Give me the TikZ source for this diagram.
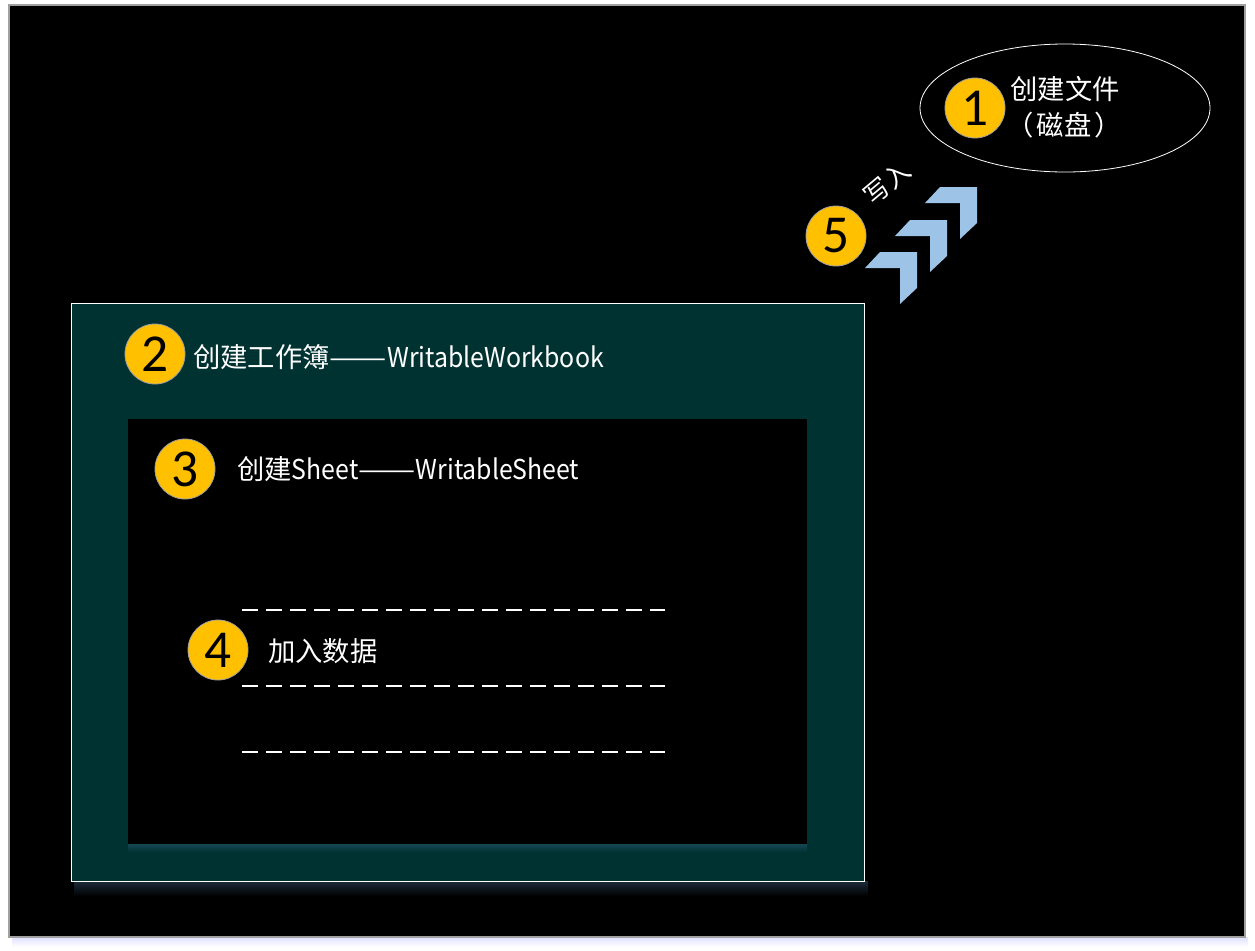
\documentclass[tikz,border=0pt]{standalone}
\usepackage{fontspec}
\usepackage{graphicx}
\usetikzlibrary{shapes.geometric}
\setmainfont{Noto Sans CJK SC}
\newfontfamily\digitfont{Carlito}
\definecolor{frameback}{RGB}{0,0,0}
\definecolor{framegray}{RGB}{160,160,160}
\definecolor{panelteal}{RGB}{1,50,50}
\definecolor{badge}{RGB}{255,192,0}
\definecolor{chev}{RGB}{157,195,230}
\definecolor{glow}{RGB}{28,44,60}
\definecolor{innerglow}{RGB}{22,70,82}
\newcommand{\lat}[1]{\scalebox{0.91}[1]{#1}}
\newcommand{\longdash}{\scalebox{1.25}[1]{——}}
\tikzset{
  badgecircle/.style={circle,fill=badge,draw=framegray,line width=0.6pt,minimum size=45pt,inner sep=0pt,font=\digitfont\fontsize{40}{40}\selectfont,text=black},
  steptext/.style={text=white,font=\fontsize{20.5}{24}\selectfont,inner sep=0pt,anchor=west},
  dashline/.style={draw=white,line width=1.5pt,dash pattern=on 12pt off 6pt}
}
\newcommand{\chevron}[2]{%
  \fill[chev] (#1-52,#2+16) -- (#1-37,#2) -- (#1,#2) -- (#1,#2+36) -- (#1-17,#2+52) -- (#1-17,#2+16) -- cycle;}
\begin{document}
\begin{tikzpicture}[x=0.75pt,y=-0.75pt]
\useasboundingbox (0,0) rectangle (1255,950);
\fill[white] (0,0) rectangle (1255,950);
% outer frame shadow
\shade[top color=blue!12,bottom color=white] (12,937) rectangle (1248,947);
\fill[frameback] (9,5) rectangle (1245,937);
\draw[framegray,line width=0.8pt] (9,5) rectangle (1245,937);

% workbook panel with soft shadow
\shade[top color=glow,bottom color=black] (74,881) rectangle (868,896);
\node[draw=white,fill=panelteal,line width=0.8pt,minimum width=594.75pt,minimum height=433.5pt,inner sep=0pt,anchor=north west] (book) at (71,303) {};
% sheet panel with soft glow
\shade[top color=innerglow,bottom color=panelteal] (128,844) rectangle (807,852);
\node[fill=black,minimum width=509.25pt,minimum height=318.75pt,inner sep=0pt,anchor=north west] (sheet) at (128,419) {};

% ellipse
\node[ellipse,draw=white,line width=0.6pt,minimum width=217.5pt,minimum height=96pt,inner sep=0pt] (file) at (1065,108) {};
\node[badgecircle] (c1) at (975,108) {1};
\node[text=white,font=\fontsize{20.5}{24}\selectfont,inner sep=0pt] (t1a) at (1065,89) {创建文件};
\node[text=white,font=\fontsize{20.5}{24}\selectfont,inner sep=0pt] (t1b) at (1064,125) {（\hspace{2pt}磁盘\hspace{2pt}）};

% step 2
\node[badgecircle] (c2) at (155,354) {2};
\node[steptext] (t2) at (193,357) {创建工作簿\longdash\lat{WritableWorkbook}};
% step 3
\node[badgecircle] (c3) at (185,469) {3};
\node[steptext] (t3) at (237,469) {创建\lat{Sheet}\longdash\lat{WritableSheet}};
% step 4
\node[badgecircle] (c4) at (218,650) {4};
\node[steptext] (t4) at (268,651) {加入数据};
\coordinate (d1a) at (242,610); \coordinate (d1b) at (665,610);
\coordinate (d2a) at (242,686); \coordinate (d2b) at (665,686);
\coordinate (d3a) at (242,752); \coordinate (d3b) at (665,752);
\draw[dashline] (d1a) -- (d1b);
\draw[dashline] (d2a) -- (d2b);
\draw[dashline] (d3a) -- (d3b);

% step 5
\node[badgecircle] (c5) at (836,236) {5};
\chevron{917}{252}
\chevron{947}{220}
\chevron{977}{187}
\node[text=white,font=\fontsize{19}{22}\selectfont,rotate=40,inner sep=0pt] (t5) at (887,183) {写入};
\end{tikzpicture}
\end{document}
